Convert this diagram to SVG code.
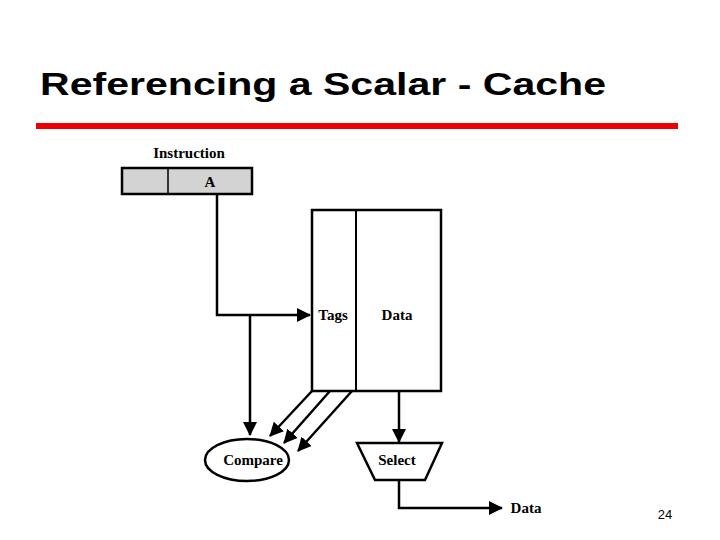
<svg xmlns="http://www.w3.org/2000/svg" width="720" height="540" viewBox="0 0 720 540">
<style>
.t{font-family:"Liberation Serif",serif;font-weight:bold;font-size:15px;text-anchor:middle}
.s{fill:none;stroke:#000;stroke-width:2.5}
</style>
<defs><marker id="b" markerWidth="14" markerHeight="14" refX="13" refY="7" orient="auto" markerUnits="userSpaceOnUse" viewBox="0 0 14 14"><path d="M0,0L14,7L0,14z"/></marker></defs>
<rect width="720" height="540" fill="#fff"/>
<text x="40" y="95" font-family="Liberation Sans,sans-serif" font-weight="bold" font-size="31" textLength="566" lengthAdjust="spacingAndGlyphs">Referencing a Scalar - Cache</text>
<rect x="36" y="123" width="642" height="6" fill="#e00"/>
<text x="665" y="519" font-family="Liberation Sans,sans-serif" font-size="13" text-anchor="middle">24</text>
<g id="instruction"><text class="t" x="189" y="158">Instruction</text>
<rect x="122" y="168" width="130" height="26" fill="#d3d3d3" stroke="#000" stroke-width="2.5"/><line x1="168" y1="168" x2="168" y2="194" stroke="#000" stroke-width="1.5"/><text class="t" x="210" y="187">A</text></g>
<g id="cache"><rect class="s" x="312" y="210" width="129" height="181"/><line x1="356" y1="210" x2="356" y2="391" stroke="#000" stroke-width="2"/><text class="t" x="333" y="320">Tags</text><text class="t" x="397" y="320">Data</text></g>
<g id="compare"><ellipse class="s" cx="247" cy="460" rx="42" ry="21"/><text class="t" x="253" y="465">Compare</text></g>
<g id="select"><path class="s" d="M357,443H442L425,480H375Z"/><text class="t" x="397" y="465">Select</text></g>
<g id="out"><text class="t" x="526" y="513">Data</text></g>
<g id="connectors">
<path class="s" d="M217,194V315H310" marker-end="url(#b)"/>
<path class="s" d="M250,315V435" marker-end="url(#b)"/>
<path class="s" d="M312,391L270,436" marker-end="url(#b)"/>
<path class="s" d="M330,391L284,443" marker-end="url(#b)"/>
<path class="s" d="M352,391L298,451" marker-end="url(#b)"/>
<path class="s" d="M399,391V442" marker-end="url(#b)"/>
<path class="s" d="M399,480V508H502" marker-end="url(#b)"/>
</g>
</svg>
